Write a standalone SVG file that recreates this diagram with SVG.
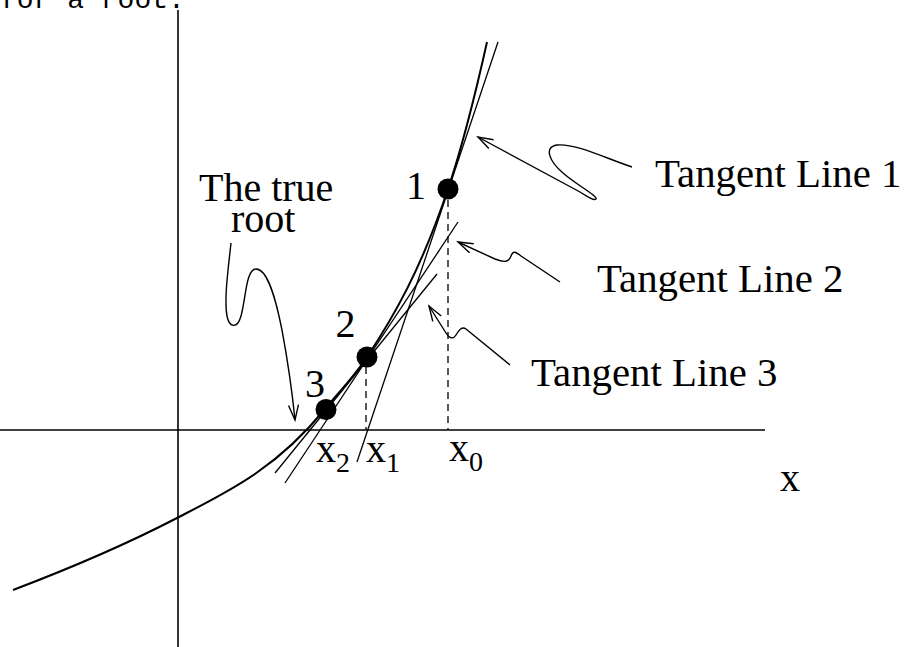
<svg xmlns="http://www.w3.org/2000/svg" width="907" height="647" viewBox="0 0 907 647">
<style>
  text { font-family: "Liberation Serif", "Times New Roman", serif; fill: #000; }
  .lbl { font-size: 40px; }
  .tl { font-size: 40.8px; }
  .sub { font-size: 28px; }
  .axis { stroke: #000; stroke-width: 1.6; fill: none; }
  .curve { stroke: #000; stroke-width: 2; fill: none; }
  .tan { stroke: #000; stroke-width: 1.3; fill: none; }
  .dash { stroke: #000; stroke-width: 1.3; stroke-dasharray: 7 5; fill: none; }
  .arrow { stroke: #000; stroke-width: 1.4; fill: none; marker-end: url(#vhead); }
  .dot { fill: #000; }
</style>
<defs>
  <marker id="vhead" markerUnits="userSpaceOnUse" markerWidth="20" markerHeight="14" viewBox="-16 -7 18 14" refX="0" refY="0" orient="auto">
    <path d="M -15,-5 L 0,0 L -15,5" fill="none" stroke="#000" stroke-width="1.4"/>
  </marker>
</defs>
<text x="0" y="8" style="font-family: 'Liberation Mono', 'Courier New', monospace; font-size: 28px;">for a root.</text>
<g id="axes">
  <line class="axis" x1="178" y1="10" x2="178" y2="647"/>
  <line class="axis" x1="0" y1="430" x2="765" y2="430"/>
</g>
<g id="connectors">
  <path id="function-curve" class="curve" d="M 13,590 C 67.7,569.2 122.3,546.4 177,518 C 226.3,492.4 275.7,469.7 325,409 C 339,391.8 353,378.1 367,357 C 394,316.2 421,269.5 448,189 C 461,150.3 474,100.5 487,42"/>
  <line id="tangent-1" class="tan" x1="357" y1="462" x2="498" y2="42"/>
  <line id="tangent-2" class="tan" x1="285" y1="483" x2="458" y2="222"/>
  <line id="tangent-3" class="tan" x1="275" y1="473" x2="437" y2="274"/>
  <line id="drop-x0" class="dash" x1="448" y1="200" x2="448" y2="430"/>
  <line id="drop-x1" class="dash" x1="366" y1="367" x2="366" y2="430"/>
  <path id="arrow-root" class="arrow" d="M 231,243 C 228,270 224,300 227,316 C 229,327 237,330 241,316 C 246,298 246,269 256,269 C 268,269 276,300 282,330 C 287,357 292,390 295,420"/>
  <path id="arrow-tl1" class="arrow" d="M 632,167 C 605,158 575,143 557,145 C 543,147 550,162 563,173 C 578,186 598,196 596,199 C 594,201 588,197 580,192 L 478,137"/>
  <path id="arrow-tl2" class="arrow" d="M 560,282 L 521,256 C 516,252 513,250 511,256 C 509,262 505,263 495,259 L 458,242"/>
  <path id="arrow-tl3" class="arrow" d="M 510,365 L 466,329 C 462,326 459,330 456,335 C 453,340 449,338 446,333 L 429,306"/>
</g>
<g id="point-1">
  <circle class="dot" cx="448" cy="189" r="10.5"/>
  <text class="lbl" x="416" y="199" text-anchor="middle">1</text>
</g>
<g id="point-2">
  <circle class="dot" cx="367" cy="357" r="10.5"/>
  <text class="lbl" x="345.5" y="337" text-anchor="middle">2</text>
</g>
<g id="point-3">
  <circle class="dot" cx="326" cy="409.5" r="10.5"/>
  <text class="lbl" x="315" y="397" text-anchor="middle">3</text>
</g>
<g id="label-x2">
  <text class="lbl" x="316" y="462">x<tspan class="sub" dy="10">2</tspan></text>
</g>
<g id="label-x1">
  <text class="lbl" x="366" y="462">x<tspan class="sub" dy="10">1</tspan></text>
</g>
<g id="label-x0">
  <text class="lbl" x="449" y="461">x<tspan class="sub" dy="10">0</tspan></text>
</g>
<g id="label-x-axis">
  <text class="lbl" x="780" y="491">x</text>
</g>
<g id="label-true-root">
  <text class="lbl" x="199" y="201">The true</text>
  <text class="lbl" x="231" y="232">root</text>
</g>
<g id="label-tangent-1">
  <text class="tl" x="655" y="187">Tangent Line 1</text>
</g>
<g id="label-tangent-2">
  <text class="tl" x="597" y="292">Tangent Line 2</text>
</g>
<g id="label-tangent-3">
  <text class="tl" x="531" y="386">Tangent Line 3</text>
</g>
</svg>
